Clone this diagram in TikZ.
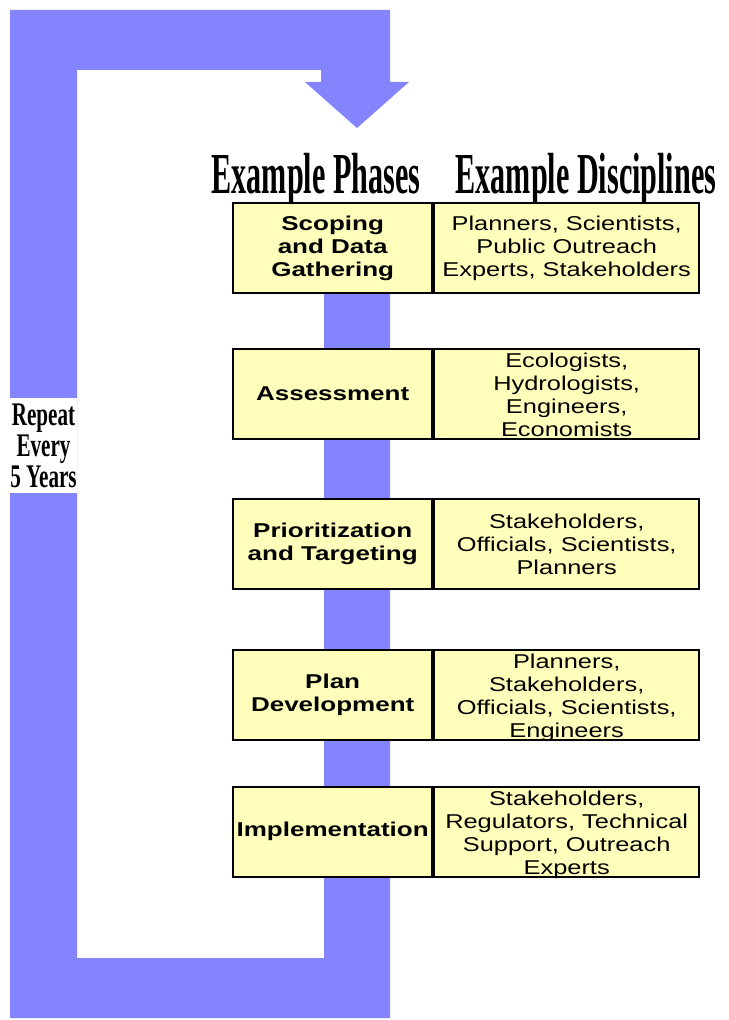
\documentclass[tikz,border=0pt]{standalone}
\usepackage{fontspec}
\newfontfamily\headfont{Liberation Serif}[FakeStretch=0.52]
\newfontfamily\repeatfont{Liberation Serif}[FakeStretch=0.64]
\newfontfamily\phasefont{Liberation Sans}[FakeStretch=1.3]
\newfontfamily\disfont{Liberation Sans}[FakeStretch=1.27]
\definecolor{loopblue}{HTML}{8484FF}
\definecolor{cellyellow}{HTML}{FFFFBB}
\newcommand{\topgap}{\rule{0pt}{12pt}}
\begin{document}
\begin{tikzpicture}[x=0.75pt,y=-0.75pt,
	phase/.style={draw=black,line width=1.5pt,fill=cellyellow,anchor=east,
		minimum width=149pt,minimum height=67.5pt,inner sep=0pt,align=center,
		font=\phasefont\bfseries\fontsize{15}{17.25}\selectfont},
	discip/.style={draw=black,line width=1.5pt,fill=cellyellow,anchor=west,
		minimum width=199pt,minimum height=67.5pt,inner sep=0pt,align=center,
		font=\disfont\fontsize{15}{17.25}\selectfont},
	heading/.style={anchor=base,inner sep=0pt,
		font=\headfont\bfseries\fontsize{43.5}{43.5}\selectfont}]
	\useasboundingbox (0,0) rectangle (728,1020);
	% the loop
	\fill[loopblue] (10,10) -- (390,10) -- (390,82) -- (409,82) -- (357,128)
		-- (305,82) -- (321,82) -- (321,70) -- (77,70) -- (77,958)
		-- (324,958) -- (324,250) -- (390,250) -- (390,1018) -- (10,1018) -- cycle;
	\node[fill=white,inner sep=0pt,minimum width=50.25pt,minimum height=71.25pt,
		align=center,font=\repeatfont\bfseries\fontsize{24.75}{23.25}\selectfont]
		(repeat) at (43.5,445.5) {Repeat\\Every\\5 Years};
	% headings
	\node[heading] (hphase) at (316,193) {Example Phases};
	\node[heading] (hdis) at (586,193) {Example Disciplines};
	% phases
	\node[phase] (ph1) at (433,248) {Scoping\\and Data\\Gathering};
	\node[discip] (dis1) at (433,248) {Planners, Scientists,\\Public Outreach\\Experts, Stakeholders};
	\node[phase] (ph2) at (433,393.5) {Assessment};
	\node[discip] (dis2) at (433,393.5) {\topgap Ecologists,\\Hydrologists,\\Engineers,\\\smash{Economists}};
	\node[phase] (ph3) at (433,544) {Prioritization\\and Targeting};
	\node[discip] (dis3) at (433,544) {Stakeholders,\\Officials, Scientists,\\Planners};
	\node[phase] (ph4) at (433,695) {Plan\\Development};
	\node[discip] (dis4) at (433,695) {\topgap Planners,\\Stakeholders,\\Officials, Scientists,\\\smash{Engineers}};
	\node[phase] (ph5) at (433,831.5) {Implementation};
	\node[discip] (dis5) at (433,831.5) {\topgap Stakeholders,\\Regulators, Technical\\Support, Outreach\\\smash{Experts}};
\end{tikzpicture}
\end{document}
